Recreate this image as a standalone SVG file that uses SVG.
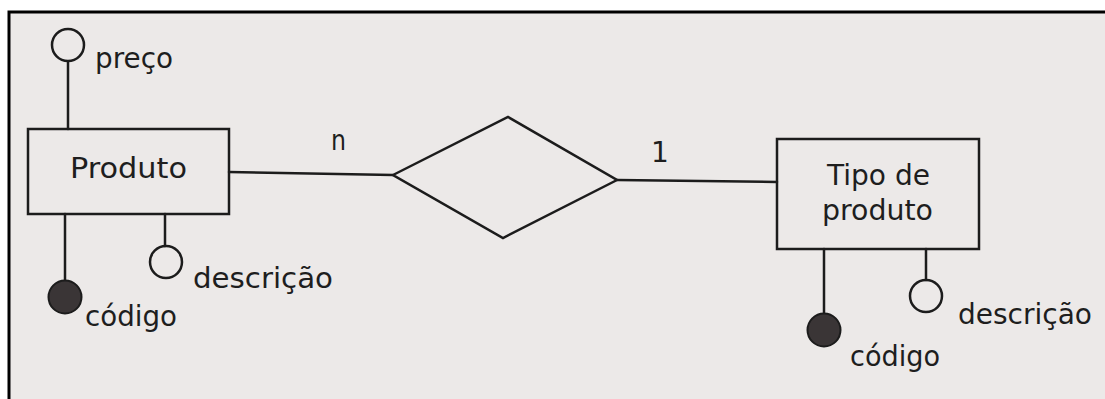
<svg xmlns="http://www.w3.org/2000/svg" width="1105" height="399" viewBox="0 0 1105 399">
  <style>
    .edge { stroke: #1c1c1c; stroke-width: 2.5; fill: none; stroke-linecap: round; }
    .shape { stroke: #1c1c1c; stroke-width: 2.5; fill: none; }
    .attr { stroke: #1c1c1c; stroke-width: 2.5; fill: none; }
    .key { stroke: #1c1c1c; stroke-width: 2; fill: #3a3536; }
    .lbl { font-family: "DejaVu Sans", "Liberation Sans", sans-serif; font-size: 28px; fill: #1e1e1e; }
  </style>
  <!-- page -->
  <rect x="0" y="0" width="1105" height="399" fill="#ffffff"/>
  <rect x="9" y="12" width="1100" height="390" fill="#ece9e8" stroke="#000" stroke-width="3"/>

  <!-- connectors -->
  <g id="connectors">
    <line class="edge" x1="68" y1="62" x2="68" y2="129"/>
    <line class="edge" x1="65" y1="214" x2="65" y2="281"/>
    <line class="edge" x1="165" y1="214" x2="165" y2="246"/>
    <line class="edge" x1="229" y1="172" x2="393" y2="175"/>
    <line class="edge" x1="617" y1="180" x2="777" y2="182"/>
    <line class="edge" x1="824" y1="249" x2="824" y2="314"/>
    <line class="edge" x1="926" y1="249" x2="926" y2="280"/>
  </g>

  <!-- entity: Produto -->
  <g id="produto">
    <rect class="shape" x="28" y="129" width="201" height="85"/>
    <text class="lbl" x="70" y="178" textLength="117" lengthAdjust="spacingAndGlyphs">Produto</text>
  </g>
  <g id="produto-preco">
    <circle class="attr" cx="68" cy="45" r="16"/>
    <text class="lbl" x="95" y="68" textLength="78" lengthAdjust="spacingAndGlyphs">preço</text>
  </g>
  <g id="produto-codigo">
    <circle class="key" cx="65" cy="297" r="16.5"/>
    <text class="lbl" x="85" y="326" textLength="92" lengthAdjust="spacingAndGlyphs">código</text>
  </g>
  <g id="produto-descricao">
    <circle class="attr" cx="166" cy="262" r="16"/>
    <text class="lbl" x="193" y="288" textLength="140" lengthAdjust="spacingAndGlyphs">descrição</text>
  </g>

  <!-- relationship -->
  <g id="relacao">
    <polygon class="shape" points="393,175 508,117 617,180 503,238"/>
    <text class="lbl" x="331" y="150" textLength="15" lengthAdjust="spacingAndGlyphs">n</text>
    <text class="lbl" x="651" y="162">1</text>
  </g>

  <!-- entity: Tipo de produto -->
  <g id="tipo-produto">
    <rect class="shape" x="777" y="139" width="202" height="110"/>
    <text class="lbl" x="827" y="185" textLength="103" lengthAdjust="spacingAndGlyphs">Tipo de</text>
    <text class="lbl" x="822" y="220" textLength="111" lengthAdjust="spacingAndGlyphs">produto</text>
  </g>
  <g id="tipo-codigo">
    <circle class="key" cx="824" cy="330" r="16.5"/>
    <text class="lbl" x="850" y="366" textLength="90" lengthAdjust="spacingAndGlyphs">código</text>
  </g>
  <g id="tipo-descricao">
    <circle class="attr" cx="926" cy="296" r="16"/>
    <text class="lbl" x="958" y="324" textLength="134" lengthAdjust="spacingAndGlyphs">descrição</text>
  </g>
</svg>
